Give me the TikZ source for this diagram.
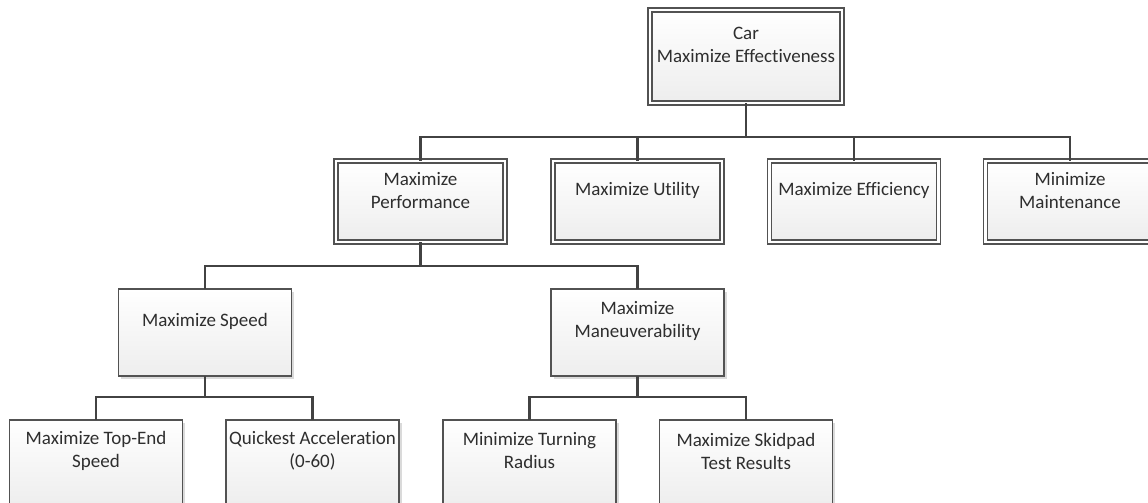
\documentclass[tikz,border=0pt]{standalone}
\usepackage{fontspec}
\setmainfont{Carlito}[Ligatures=NoCommon]
\usetikzlibrary{shadows}
\begin{document}
\begin{tikzpicture}[x=1pt,y=-1pt,
  conn/.style={draw=black!74, line width=2.6pt, line join=miter},
  boxbase/.style={draw=black!68, line width=1.3pt, top color=white, bottom color=black!7,
    outer sep=0pt, inner sep=0pt,
    drop shadow={shadow xshift=2.5pt, shadow yshift=-2.5pt, fill=black!18, opacity=0.8}},
  dblbox/.style={boxbase, double=white, double distance=2.6pt},
  sglbox/.style={boxbase, line width=1.5pt},
  lvltwo/.style={dblbox, minimum width=169pt, minimum height=81pt},
  lvlthree/.style={sglbox, minimum width=173pt, minimum height=87pt},
  txt/.style={align=center, text=black!82, font=\fontsize{19}{23}\selectfont, inner sep=0pt}
]
\clip (0,0) rectangle (1148,503);

% boxes
\node[dblbox, minimum width=192pt, minimum height=93pt] (car) at (746,56.5) {};
\node[lvltwo] (perf)  at (420.5,201.5) {};
\node[lvltwo] (util)  at (637.5,201.5) {};
\node[lvltwo] (eff)   at (854,201.5) {};
\node[lvltwo] (maint) at (1070,201.5) {};
\node[lvlthree] (speed) at (205,332.5) {};
\node[lvlthree] (manv)  at (637.5,332.5) {};
\node[lvlthree] (top)   at (96,463.5) {};
\node[lvlthree] (quick) at (312.5,463.5) {};
\node[lvlthree] (turn)  at (529.5,463.5) {};
\node[lvlthree] (skid)  at (746,463.5) {};

% texts
\node[txt] (car-t)   at (746,45)   {Car\\Maximize Effectiveness};
\node[txt] (perf-t)  at (420.5,190.5) {Maximize\\Performance};
\node[txt] (util-t)  at (637.5,190.5) {Maximize Utility};
\node[txt] (eff-t)   at (854,190.5) {Maximize Efficiency};
\node[txt] (maint-t) at (1070,190.5) {Minimize\\Maintenance};
\node[txt] (speed-t) at (205,321) {Maximize Speed};
\node[txt] (manv-t)  at (637.5,321) {Maximize\\Maneuverability};
\node[txt] (top-t)   at (96,451) {Maximize Top-End\\Speed};
\node[txt] (quick-t) at (312.5,451) {Quickest Acceleration\\(0-60)};
\node[txt] (turn-t)  at (529.5,451) {Minimize Turning\\Radius};
\node[txt] (skid-t)  at (746,451) {Maximize Skidpad\\Test Results};

% bus levels
\coordinate (b1) at (0,137);
\coordinate (b2) at (0,266);
\coordinate (b3) at (0,397);

% connectors
\foreach \c in {perf,util,eff,maint}
  \draw[conn] (car.south) -- (car.south |- b1) -| (\c.north);
\foreach \c in {speed,manv}
  \draw[conn] (perf.south) -- (perf.south |- b2) -| (\c.north);
\foreach \c in {top,quick}
  \draw[conn] (speed.south) -- (speed.south |- b3) -| (\c.north);
\foreach \c in {turn,skid}
  \draw[conn] (manv.south) -- (manv.south |- b3) -| (\c.north);
\end{tikzpicture}
\end{document}
